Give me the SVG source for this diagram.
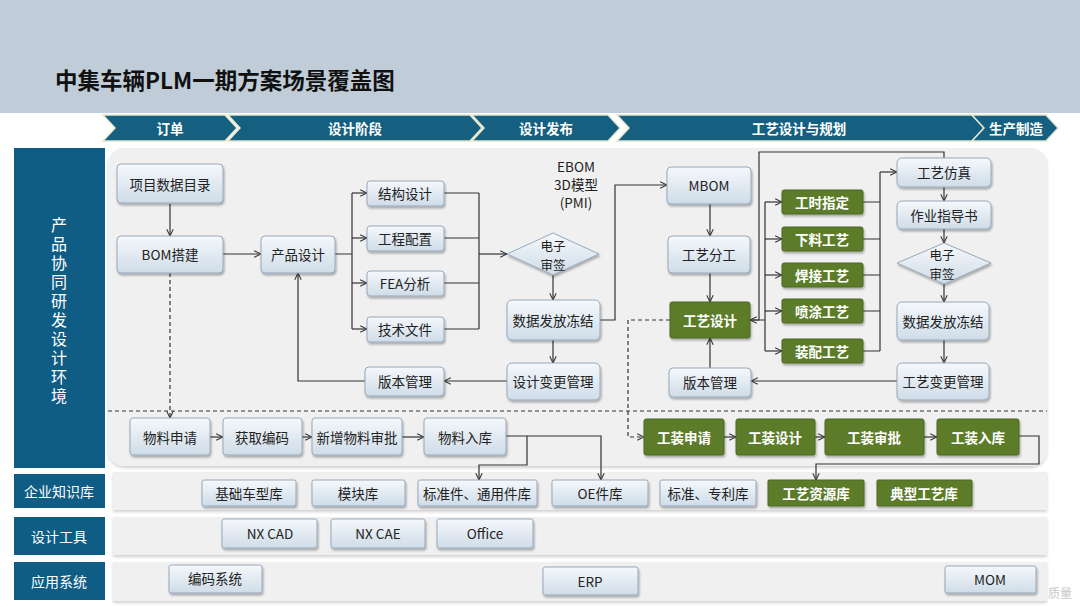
<svg xmlns="http://www.w3.org/2000/svg" width="1080" height="607" viewBox="0 0 1080 607">
<defs>
<linearGradient id="g" x1="0" y1="0" x2="0" y2="1"><stop offset="0" stop-color="#f5f8fb"/><stop offset="1" stop-color="#cfdce8"/></linearGradient>
<filter id="sh" x="-10%" y="-20%" width="130%" height="160%"><feDropShadow dx="1" dy="2" stdDeviation="1.2" flood-color="#000" flood-opacity="0.3"/></filter>
<filter id="sh2" x="-5%" y="-10%" width="110%" height="130%"><feDropShadow dx="0" dy="2" stdDeviation="1.5" flood-color="#000" flood-opacity="0.18"/></filter>
<marker id="a" viewBox="0 0 10 10" refX="9.5" refY="5" markerWidth="8" markerHeight="8" orient="auto" markerUnits="userSpaceOnUse"><path d="M1,1 L9.5,5 L1,9" fill="none" stroke="#333" stroke-width="1.3"/></marker>
<style>
.box{fill:url(#g);stroke:#97a9bb;stroke-width:1;filter:url(#sh)}
.gbox{fill:#5b7b2a;stroke:#4d6a22;stroke-width:1;filter:url(#sh)}
.t{font-family:"Noto Sans CJK SC","Liberation Sans",sans-serif;font-size:13.5px;fill:#222;text-anchor:middle;dominant-baseline:central}
.dt{font-size:12.5px}
.gt{fill:#fff;font-weight:bold}
.wt{fill:#fff}
.ln{stroke:#333;stroke-width:1.2;fill:none}
.ar{marker-end:url(#a)}
.ds{stroke-dasharray:4 3}
.chev{fill:#155f80;stroke:#e4e6cc;stroke-width:1.5}
.ct{font-family:"Noto Sans CJK SC","Liberation Sans",sans-serif;font-size:13.5px;font-weight:bold;fill:#fff;text-anchor:middle;dominant-baseline:central}
.lab{fill:#0f5d85}
.row{fill:#f0f0f0;filter:url(#sh2)}
</style>
</defs>
<rect width="1080" height="607" fill="#fff"/>
<rect x="0" y="0" width="1080" height="113" fill="#c0cdd8"/>
<text x="55" y="79" style="font-family:'Noto Sans CJK SC','Liberation Sans',sans-serif;font-size:22.5px;font-weight:bold;fill:#111;dominant-baseline:central">中集车辆PLM一期方案场景覆盖图</text>

<g id="phases">
<polygon class="chev" points="103,115 225,115 237,128 225,141 103,141 115,128"/>
<text class="ct" x="170" y="128">订单</text>
<polygon class="chev" points="228,115 470,115 482,128 470,141 228,141 240,128"/>
<text class="ct" x="355" y="128">设计阶段</text>
<polygon class="chev" points="472,115 608,115 620,128 608,141 472,141 484,128"/>
<text class="ct" x="546" y="128">设计发布</text>
<polygon class="chev" points="617,115 972,115 984,128 972,141 617,141 629,128"/>
<text class="ct" x="799" y="128">工艺设计与规划</text>
<polygon class="chev" points="972,115 1046,115 1058,128 1046,141 972,141 984,128"/>
<text class="ct" x="1016" y="128">生产制造</text>
</g>

<g id="panels">
<rect x="108" y="148" width="939" height="318" rx="16" fill="#f0f0f0" filter="url(#sh2)"/>
<rect class="row" x="113" y="472" width="934" height="38"/>
<rect class="row" x="113" y="517" width="934" height="38"/>
<rect class="row" x="113" y="562" width="934" height="39"/>
<rect class="lab" x="14" y="148" width="91" height="320"/>
<text x="59" y="217" style="font-family:'Noto Sans CJK SC','Liberation Sans',sans-serif;font-size:16px;fill:#fff;writing-mode:vertical-rl;letter-spacing:3px">产品协同研发设计环境</text>
<rect class="lab" x="14" y="474" width="91" height="34"/>
<text class="t wt" x="59" y="491" style="font-size:14px">企业知识库</text>
<rect class="lab" x="14" y="517" width="91" height="38"/>
<text class="t wt" x="59" y="536" style="font-size:14px">设计工具</text>
<rect class="lab" x="14" y="562" width="91" height="38"/>
<text class="t wt" x="59" y="581" style="font-size:14px">应用系统</text>
</g>

<g id="connectors">
<line class="ln ds" x1="108" y1="411" x2="1047" y2="411"/>
<path class="ln ar" d="M170,204 V236"/>
<path class="ln ar" d="M223,254 H261"/>
<path class="ln ds ar" d="M170,273 V418"/>
<path class="ln" d="M335,254 H352 M352,193 V329"/>
<path class="ln ar" d="M352,193 H367"/>
<path class="ln ar" d="M352,238 H367"/>
<path class="ln ar" d="M352,283 H367"/>
<path class="ln ar" d="M352,329 H367"/>
<path class="ln" d="M444,193 H479 M444,238 H479 M444,283 H479 M444,329 H479 M479,193 V329"/>
<path class="ln ar" d="M479,254 H507"/>
<path class="ln ar" d="M553,275 V300"/>
<path class="ln ar" d="M553,340 V363"/>
<path class="ln ar" d="M507,381 H444"/>
<path class="ln ar" d="M365,381 H298 V273"/>
<path class="ln ar" d="M600,320 H615 V185 H667"/>
<path class="ln ar" d="M710,204 V236"/>
<path class="ln ar" d="M710,273 V302"/>
<path class="ln ar" d="M710,368 V338"/>
<path class="ln ar" d="M897,381 H751"/>
<path class="ln ds ar" d="M670,320 H628 V437 H644"/>
<path class="ln" d="M750,320 H765 M765,202 V351"/>
<path class="ln ar" d="M765,202 H782"/>
<path class="ln ar" d="M765,239 H782"/>
<path class="ln ar" d="M765,275 H782"/>
<path class="ln ar" d="M765,311 H782"/>
<path class="ln ar" d="M765,351 H782"/>
<path class="ln ar" d="M944,158 V152 H759 V320 H750"/>
<path class="ln" d="M863,202 H880 M863,239 H880 M863,275 H880 M863,311 H880 M863,351 H880 M880,172 V351"/>
<path class="ln ar" d="M880,172 H897"/>
<path class="ln ar" d="M944,187 V201"/>
<path class="ln ar" d="M944,229 V243"/>
<path class="ln ar" d="M944,284 V302"/>
<path class="ln ar" d="M944,340 V363"/>
<path class="ln ar" d="M210,437 H223"/>
<path class="ln ar" d="M302,437 H312"/>
<path class="ln ar" d="M402,437 H424"/>
<path class="ln ar" d="M506,436 H601 V480"/>
<path class="ln ar" d="M527,436 V465 H479 V480"/>
<path class="ln ar" d="M724,437 H736"/>
<path class="ln ar" d="M815,437 H825"/>
<path class="ln ar" d="M924,437 H937"/>
<path class="ln ar" d="M1019,436 H1039 V464 H816 V480"/>
</g>

<text class="t" x="576" y="166">EBOM</text>
<text class="t" x="576" y="184">3D模型</text>
<text class="t" x="576" y="202">(PMI)</text>

<g id="n1"><rect class="box" x="117" y="164" width="106" height="39" rx="4"/><text class="t" x="170" y="184">项目数据目录</text></g>
<g id="n2"><rect class="box" x="117" y="236" width="106" height="37" rx="4"/><text class="t" x="170" y="254">BOM搭建</text></g>
<g id="n3"><rect class="box" x="261" y="236" width="74" height="37" rx="4"/><text class="t" x="298" y="254">产品设计</text></g>
<g id="n4"><rect class="box" x="367" y="181" width="77" height="25" rx="3"/><text class="t" x="405" y="193">结构设计</text></g>
<g id="n5"><rect class="box" x="367" y="226" width="77" height="25" rx="3"/><text class="t" x="405" y="238">工程配置</text></g>
<g id="n6"><rect class="box" x="367" y="271" width="77" height="25" rx="3"/><text class="t" x="405" y="283">FEA分析</text></g>
<g id="n7"><rect class="box" x="367" y="317" width="77" height="25" rx="3"/><text class="t" x="405" y="329">技术文件</text></g>
<g id="n8"><polygon class="box" points="553,233 599,254 553,275 507,254"/><text class="t dt" x="553" y="245"><tspan x="553" y="245">电子</tspan><tspan x="553" y="263.5">审签</tspan></text></g>
<g id="n9"><rect class="box" x="507" y="300" width="93" height="40" rx="5"/><text class="t" x="553" y="320">数据发放冻结</text></g>
<g id="n10"><rect class="box" x="507" y="363" width="93" height="37" rx="5"/><text class="t" x="553" y="381">设计变更管理</text></g>
<g id="n11"><rect class="box" x="365" y="367" width="79" height="29" rx="4"/><text class="t" x="405" y="381">版本管理</text></g>
<g id="n12"><rect class="box" x="667" y="167" width="84" height="37" rx="4"/><text class="t" x="709" y="185">MBOM</text></g>
<g id="n13"><rect class="box" x="668" y="236" width="82" height="37" rx="4"/><text class="t" x="709" y="254">工艺分工</text></g>
<g id="n14"><rect class="gbox" x="670" y="302" width="80" height="36" rx="2"/><text class="t gt" x="710" y="320">工艺设计</text></g>
<g id="n15"><rect class="box" x="669" y="368" width="82" height="29" rx="4"/><text class="t" x="710" y="382">版本管理</text></g>
<g id="n16"><rect class="gbox" x="782" y="190" width="81" height="24" rx="2"/><text class="t gt" x="822" y="202">工时指定</text></g>
<g id="n17"><rect class="gbox" x="782" y="227" width="81" height="24" rx="2"/><text class="t gt" x="822" y="239">下料工艺</text></g>
<g id="n18"><rect class="gbox" x="782" y="263" width="81" height="24" rx="2"/><text class="t gt" x="822" y="275">焊接工艺</text></g>
<g id="n19"><rect class="gbox" x="782" y="299" width="81" height="24" rx="2"/><text class="t gt" x="822" y="311">喷涂工艺</text></g>
<g id="n20"><rect class="gbox" x="782" y="339" width="81" height="24" rx="2"/><text class="t gt" x="822" y="351">装配工艺</text></g>
<g id="n21"><rect class="box" x="897" y="158" width="94" height="29" rx="5"/><text class="t" x="944" y="172">工艺仿真</text></g>
<g id="n22"><rect class="box" x="897" y="201" width="94" height="28" rx="5"/><text class="t" x="944" y="215">作业指导书</text></g>
<g id="n23"><polygon class="box" points="944,243 991,263 944,284 897,263"/><text class="t dt" x="942" y="254"><tspan x="942" y="254">电子</tspan><tspan x="942" y="272.5">审签</tspan></text></g>
<g id="n24"><rect class="box" x="897" y="302" width="92" height="38" rx="5"/><text class="t" x="943" y="321">数据发放冻结</text></g>
<g id="n25"><rect class="box" x="897" y="363" width="92" height="37" rx="5"/><text class="t" x="943" y="381">工艺变更管理</text></g>

<g id="n26"><rect class="box" x="130" y="418" width="80" height="37" rx="3"/><text class="t" x="170" y="437">物料申请</text></g>
<g id="n27"><rect class="box" x="223" y="418" width="79" height="37" rx="3"/><text class="t" x="262" y="437">获取编码</text></g>
<g id="n28"><rect class="box" x="312" y="418" width="90" height="37" rx="3"/><text class="t" x="357" y="437">新增物料审批</text></g>
<g id="n29"><rect class="box" x="424" y="418" width="82" height="37" rx="3"/><text class="t" x="465" y="437">物料入库</text></g>
<g id="n30"><rect class="gbox" x="644" y="419" width="80" height="36" rx="2"/><text class="t gt" x="684" y="437">工装申请</text></g>
<g id="n31"><rect class="gbox" x="736" y="419" width="79" height="36" rx="2"/><text class="t gt" x="775" y="437">工装设计</text></g>
<g id="n32"><rect class="gbox" x="825" y="419" width="99" height="36" rx="2"/><text class="t gt" x="874" y="437">工装审批</text></g>
<g id="n33"><rect class="gbox" x="937" y="419" width="82" height="36" rx="2"/><text class="t gt" x="978" y="437">工装入库</text></g>

<g id="n34"><rect class="box" x="202" y="480" width="94" height="26" rx="2"/><text class="t" x="249" y="493">基础车型库</text></g>
<g id="n35"><rect class="box" x="312" y="480" width="93" height="26" rx="2"/><text class="t" x="358" y="493">模块库</text></g>
<g id="n36"><rect class="box" x="418" y="480" width="119" height="26" rx="2"/><text class="t" x="477" y="493">标准件、通用件库</text></g>
<g id="n37"><rect class="box" x="552" y="480" width="96" height="26" rx="2"/><text class="t" x="600" y="493">OE件库</text></g>
<g id="n38"><rect class="box" x="660" y="480" width="96" height="26" rx="2"/><text class="t" x="708" y="493">标准、专利库</text></g>
<g id="n39"><rect class="gbox" x="768" y="480" width="96" height="26" rx="1"/><text class="t gt" x="816" y="493">工艺资源库</text></g>
<g id="n40"><rect class="gbox" x="877" y="480" width="95" height="26" rx="1"/><text class="t gt" x="924" y="493">典型工艺库</text></g>

<g id="n41"><rect class="box" x="222" y="519" width="95" height="29" rx="2"/><text class="t" x="270" y="533">NX CAD</text></g>
<g id="n42"><rect class="box" x="331" y="519" width="94" height="29" rx="2"/><text class="t" x="378" y="533">NX CAE</text></g>
<g id="n43"><rect class="box" x="437" y="519" width="96" height="29" rx="2"/><text class="t" x="485" y="533">Office</text></g>
<g id="n44"><rect class="box" x="169" y="565" width="93" height="28" rx="2"/><text class="t" x="215" y="578">编码系统</text></g>
<g id="n45"><rect class="box" x="543" y="567" width="95" height="28" rx="2"/><text class="t" x="590" y="581">ERP</text></g>
<g id="n46"><rect class="box" x="945" y="566" width="91" height="27" rx="2"/><text class="t" x="990" y="579">MOM</text></g>
<text x="1048" y="592" style="font-family:'Noto Sans CJK SC',sans-serif;font-size:12px;fill:#c8c8c8;dominant-baseline:central">质量</text>
</svg>
